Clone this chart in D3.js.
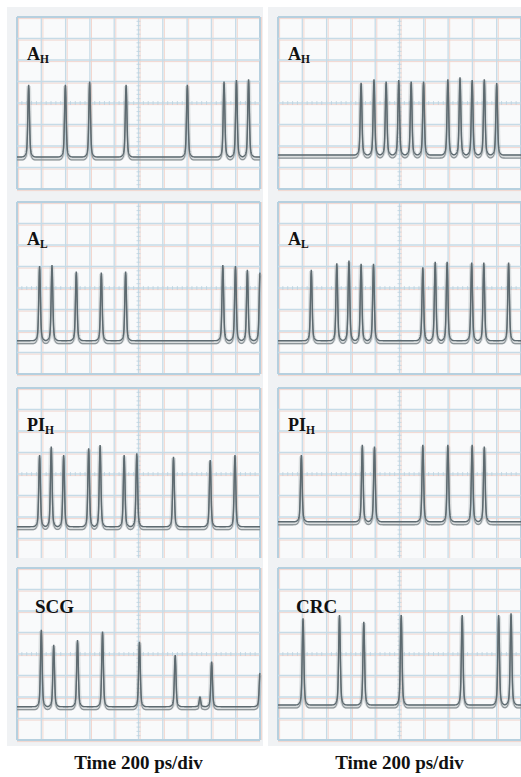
<!DOCTYPE html>
<html>
<head>
<meta charset="utf-8">
<script src="https://cdn.jsdelivr.net/npm/d3@7/dist/d3.min.js"></script>
<style>
  html, body { margin: 0; padding: 0; background: #ffffff; }
  svg { display: block; }
</style>
</head>
<body>
<svg id="chart" width="521" height="777"></svg>
<script>
// ---------------- DATA (divisions: x 0..10, y 0..8 from bottom) ----------------
const panelLabels = ["A", "A", "A", "A", "PI", "PI", "SCG", "CRC"];
const panelSubs   = ["H", "H", "L", "L", "H", "H", "", ""];

const pulsePos1 = [0.48, 1.99, 2.99, 4.49, 7.01, 8.52, 9.03, 9.53];
const pulseLvl1 = [4.84, 4.84, 4.99, 4.84, 4.84, 4.99, 5.07, 5.10];
const pulsePos2 = [3.42, 3.95, 4.45, 4.97, 5.48, 5.99, 6.99, 7.49, 7.99, 8.49, 9.00];
const pulseLvl2 = [4.94, 5.10, 4.99, 5.07, 4.99, 4.99, 5.10, 5.19, 5.07, 5.10, 4.92];
const pulsePos3 = [0.93, 1.44, 2.44, 3.47, 4.47, 8.47, 8.99, 9.48, 10.0];
const pulseLvl3 = [5.02, 5.07, 4.76, 4.71, 4.76, 5.07, 5.02, 4.84, 4.71];
const pulsePos4 = [1.37, 2.42, 2.92, 3.42, 3.93, 5.96, 6.47, 6.96, 7.97, 8.47, 9.49];
const pulseLvl4 = [4.84, 5.15, 5.27, 5.12, 5.12, 4.96, 5.22, 5.22, 5.18, 5.18, 5.18];
const pulsePos5 = [0.93, 1.41, 1.92, 2.95, 3.42, 4.41, 4.93, 6.44, 7.95, 8.97];
const pulseLvl5 = [4.88, 5.27, 4.88, 5.19, 5.35, 4.88, 4.96, 4.80, 4.65, 4.88];
const pulsePos6 = [0.96, 3.47, 3.97, 5.96, 6.99, 7.99, 8.49];
const pulseLvl6 = [4.88, 5.35, 5.27, 5.35, 5.35, 5.35, 5.27];
const pulsePos7 = [1.00, 1.51, 2.49, 3.52, 5.04, 6.51, 7.53, 8.01, 10.0];
const pulseLvl7 = [5.12, 4.42, 4.65, 5.04, 4.57, 3.95, 2.00, 3.64, 3.12];
const pulsePos8 = [1.03, 2.53, 3.53, 5.07, 7.58, 9.08, 9.59];
const pulseLvl8 = [5.66, 5.81, 5.50, 5.81, 5.81, 5.81, 5.89];
const baseLevels = [1.49, 1.58, 1.55, 1.55, 1.55, 1.78, 1.55, 1.63];

const xDivisions = d3.range(0, 11);   // 10 horizontal divisions
const yDivisions = d3.range(0, 9);    // 8 vertical divisions
const timeLabel = "Time 200 ps/div";

// ---------------- LAYOUT ----------------
const svg = d3.select("#chart");
const W = 243, H = 172;
const colX = [17, 278];
const rowY = [17, 202, 388, 568];

const positions = [pulsePos1, pulsePos2, pulsePos3, pulsePos4, pulsePos5, pulsePos6, pulsePos7, pulsePos8];
const levels    = [pulseLvl1, pulseLvl2, pulseLvl3, pulseLvl4, pulseLvl5, pulseLvl6, pulseLvl7, pulseLvl8];

const defs = svg.append("defs");
defs.append("filter").attr("id", "soft")
  .attr("x", "-5%").attr("y", "-5%").attr("width", "110%").attr("height", "110%")
  .append("feGaussianBlur").attr("stdDeviation", 0.6);

// pulse shape (narrow spike with small skirt)
function shape(d) {
  return 0.88 * Math.exp(-0.5 * (d / 0.032) ** 2) + 0.12 * Math.exp(-0.5 * (d / 0.085) ** 2);
}

const samples = d3.range(0, 10.0001, 0.005);

for (let i = 0; i < 8; i++) {
  const gx = colX[i % 2], gy = rowY[Math.floor(i / 2)];
  const x = d3.scaleLinear().domain([0, 10]).range([gx, gx + W]);
  const y = d3.scaleLinear().domain([0, 8]).range([gy + H, gy]);
  const g = svg.append("g");

  // outer photo frame
  g.append("rect")
    .attr("x", gx - 10).attr("y", gy - 10)
    .attr("width", W + 13).attr("height", H + 16)
    .attr("fill", "#f0f2f4");
  g.append("rect")
    .attr("x", gx).attr("y", gy).attr("width", W).attr("height", H)
    .attr("fill", "#f9fafb");

  // grid: pink companions, then blue lines
  g.selectAll(".vp").data(xDivisions).join("line")
    .attr("x1", d => x(d) + 1.6).attr("x2", d => x(d) + 1.6)
    .attr("y1", gy).attr("y2", gy + H)
    .attr("stroke", "#f2d2c9").attr("stroke-width", 0.9);
  g.selectAll(".hp").data(yDivisions).join("line")
    .attr("y1", d => y(d) + 1.6).attr("y2", d => y(d) + 1.6)
    .attr("x1", gx).attr("x2", gx + W)
    .attr("stroke", "#f2d2c9").attr("stroke-width", 0.9);
  g.selectAll(".vb").data(xDivisions).join("line")
    .attr("x1", d => x(d)).attr("x2", d => x(d))
    .attr("y1", gy).attr("y2", gy + H)
    .attr("stroke", d => (d === 0 || d === 10) ? "#b6d0df" : "#c6dbe7")
    .attr("stroke-width", d => (d === 0 || d === 10) ? 2 : 1.3);
  g.selectAll(".hb").data(yDivisions).join("line")
    .attr("y1", d => y(d)).attr("y2", d => y(d))
    .attr("x1", gx).attr("x2", gx + W)
    .attr("stroke", d => (d === 0 || d === 8) ? "#b6d0df" : "#c6dbe7")
    .attr("stroke-width", d => (d === 0 || d === 8) ? 2 : 1.3);

  // centre-line ticks
  const xt = d3.range(0, 10.001, 0.2), yt = d3.range(0, 8.001, 0.2);
  g.selectAll(".xt").data(xt).join("line")
    .attr("x1", d => x(d)).attr("x2", d => x(d))
    .attr("y1", y(4) - 2).attr("y2", y(4) + 2)
    .attr("stroke", "#bcd2de").attr("stroke-width", 0.8);
  g.selectAll(".yt").data(yt).join("line")
    .attr("y1", d => y(d)).attr("y2", d => y(d))
    .attr("x1", x(5) - 2).attr("x2", x(5) + 2)
    .attr("stroke", "#bcd2de").attr("stroke-width", 0.8);

  // trace
  const pos = positions[i], lvl = levels[i], base = baseLevels[i];
  const trace = samples.map(t => {
    let v = base;
    pos.forEach((p, k) => { v += (lvl[k] - base) * shape(t - p); });
    return [t, v];
  });
  const line = d3.line().x(d => x(d[0])).y(d => y(d[1]));
  const tg = g.append("g").attr("filter", "url(#soft)");
  tg.append("path").datum(trace).attr("d", line)
    .attr("fill", "none").attr("stroke", "#a4acb0").attr("stroke-width", 4.5).attr("stroke-opacity", 0.35)
    .attr("transform", "translate(0,1.5)");
  tg.append("path").datum(trace).attr("d", line)
    .attr("fill", "none").attr("stroke", "#8d9599").attr("stroke-width", 1.3)
    .attr("transform", "translate(0,3)");
  tg.append("path").datum(trace).attr("d", line)
    .attr("fill", "none").attr("stroke", "#5d6a70").attr("stroke-width", 1.4);

  // label
  const isWord = panelSubs[i] === "";
  const lbl = g.append("text")
    .attr("x", gx + (isWord ? 18 : 10))
    .attr("y", gy + (isWord ? 45 : 43))
    .attr("font-family", "'Liberation Serif', 'Times New Roman', serif")
    .attr("font-weight", "bold")
    .attr("font-size", isWord ? 19 : 18)
    .attr("fill", "#111");
  lbl.append("tspan").text(panelLabels[i]);
  if (!isWord) {
    lbl.append("tspan").attr("font-size", 11.5).attr("dy", 3).text(panelSubs[i]);
  }
}

// axis captions
[0, 1].forEach(c => {
  svg.append("text")
    .attr("x", colX[c] + W / 2).attr("y", 769)
    .attr("text-anchor", "middle")
    .attr("font-family", "'Liberation Serif', 'Times New Roman', serif")
    .attr("font-weight", "bold").attr("font-size", 19)
    .attr("fill", "#111")
    .text(timeLabel);
});
</script>
</body>
</html>
